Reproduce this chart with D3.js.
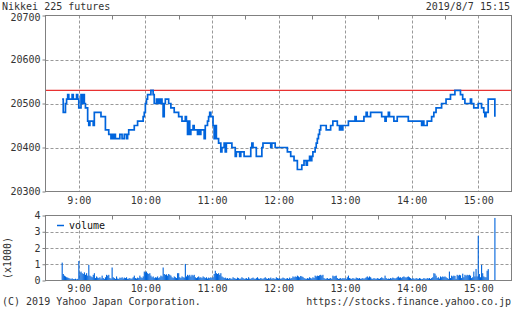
<!DOCTYPE html>
<html>
<head>
<meta charset="utf-8">
<script src="https://cdn.jsdelivr.net/npm/d3@7"></script>
<style>
body { margin: 0; background: #fff; }
text { font-family: "DejaVu Sans Mono", monospace; font-size: 10px; fill: #333; }
</style>
</head>
<body>
<div id="chart"></div>
<script>
// price steps (time, price)
const priceTimes = [
    "8:45", "8:46", "8:48", "8:49", "8:50", "8:51", "8:54", "8:55", "8:58", "8:59",
    "9:00", "9:02", "9:03", "9:04", "9:05", "9:06", "9:08", "9:09", "9:10", "9:13",
    "9:14", "9:20", "9:24", "9:27", "9:29", "9:30", "9:31", "9:32", "9:33", "9:37",
    "9:39", "9:41", "9:43", "9:44", "9:45", "9:50", "9:53", "9:58", "9:59", "10:00",
    "10:01", "10:02", "10:05", "10:07", "10:08", "10:10", "10:11", "10:12", "10:13", "10:14",
    "10:15", "10:16", "10:17", "10:18", "10:21", "10:23", "10:26", "10:30", "10:33", "10:36",
    "10:37", "10:38", "10:39", "10:40", "10:41", "10:43", "10:44", "10:47", "10:48", "10:49",
    "10:50", "10:53", "10:54", "10:56", "10:57", "10:58", "10:59", "11:01", "11:02", "11:03",
    "11:04", "11:06", "11:08", "11:09", "11:11", "11:12", "11:13", "11:18", "11:21", "11:22",
    "11:23", "11:25", "11:26", "11:29", "11:35", "11:36", "11:37", "11:40", "11:45", "11:46",
    "11:53", "11:54", "11:57", "12:08", "12:11", "12:14", "12:17", "12:21", "12:23", "12:25",
    "12:26", "12:28", "12:29", "12:30", "12:31", "12:33", "12:34", "12:35", "12:36", "12:37",
    "12:38", "12:43", "12:47", "12:49", "12:53", "12:55", "12:56", "12:57", "12:58", "13:03",
    "13:09", "13:10", "13:17", "13:19", "13:20", "13:23", "13:33", "13:36", "13:37", "13:39",
    "13:40", "13:44", "13:47", "13:57", "14:09", "14:10", "14:11", "14:14", "14:18", "14:20",
    "14:22", "14:27", "14:31", "14:35", "14:39", "14:44", "14:46", "14:48", "14:53", "14:54",
    "14:56", "15:00", "15:03", "15:05", "15:06", "15:07", "15:09", "15:15"
];
const priceValues = [
    20510, 20480, 20500, 20510, 20520, 20510, 20520, 20510, 20520, 20510,
    20490, 20520, 20500, 20520, 20500, 20490, 20460, 20450, 20460, 20450,
    20480, 20470, 20440, 20430, 20420, 20430, 20420, 20430, 20420, 20430,
    20420, 20430, 20420, 20430, 20440, 20450, 20460, 20470, 20480, 20500,
    20510, 20520, 20530, 20520, 20500, 20510, 20500, 20510, 20500, 20510,
    20500, 20470, 20500, 20510, 20500, 20490, 20480, 20470, 20460, 20470,
    20460, 20430, 20460, 20430, 20440, 20450, 20440, 20430, 20440, 20430,
    20440, 20420, 20450, 20460, 20470, 20480, 20470, 20450, 20420, 20450,
    20420, 20410, 20390, 20400, 20410, 20390, 20410, 20400, 20380, 20390,
    20390, 20380, 20390, 20380, 20400, 20410, 20400, 20380, 20400, 20410,
    20400, 20410, 20400, 20390, 20380, 20370, 20350, 20360, 20370, 20360,
    20370, 20380, 20370, 20380, 20390, 20400, 20410, 20420, 20430, 20440,
    20450, 20440, 20450, 20460, 20450, 20440, 20450, 20440, 20450, 20460,
    20470, 20460, 20470, 20480, 20470, 20480, 20470, 20460, 20470, 20480,
    20470, 20460, 20470, 20460, 20450, 20460, 20450, 20460, 20470, 20480,
    20490, 20500, 20510, 20520, 20530, 20520, 20510, 20500, 20510, 20500,
    20490, 20500, 20490, 20480, 20470, 20480, 20510, 20470
];
const refPrice = 20530;

// volume per minute from 8:45 (one row = 15 minutes)
const volumeStart = "8:45";
const volumes = [
    1100, 400, 300, 250, 200, 180, 150, 120, 100, 130, 90, 80, 110, 70, 100,
    1200, 500, 550, 450, 400, 500, 350, 450, 300, 960, 300, 250, 200, 350, 450,
    150, 250, 180, 150, 200, 120, 300, 150, 100, 200, 350, 300, 350, 150, 120,
    800, 200, 150, 100, 250, 120, 100, 180, 150, 200, 120, 180, 150, 200, 100,
    120, 150, 100, 130, 200, 300, 150, 120, 180, 150, 300, 200, 150, 250, 550,
    500, 550, 450, 400, 450, 300, 200, 250, 150, 200, 180, 250, 150, 200, 300,
    250, 800, 400, 350, 380, 300, 400, 350, 300, 200, 150, 250, 200, 150, 450,
    450, 200, 150, 250, 200, 180, 1020, 250, 350, 300, 350, 250, 350, 300, 350,
    200, 150, 200, 250, 180, 200, 150, 250, 200, 150, 200, 120, 180, 150, 200,
    150, 200, 400, 600, 450, 400, 450, 350, 450, 250, 200, 150, 180, 120, 150,
    100, 150, 120, 100, 200, 150, 120, 100, 180, 150, 100, 120, 200, 150, 100,
    120, 150, 100, 200, 120, 100, 150, 180, 120, 100, 150, 200, 120, 100, 150,
    120, 100, 150, 200, 130, 100, 150, 120, 180, 100, 150, 120, 100, 200, 150,
    120, 150, 100, 130, 180, 150, 100, 120, 150, 100, 180, 120, 150, 250, 200,
    250, 220, 300, 250, 200, 280, 250, 220, 150, 120, 100, 150, 120, 200, 150,
    120, 200, 150, 300, 250, 300, 280, 320, 350, 300, 350, 150, 100, 120, 150,
    100, 120, 150, 100, 300, 250, 280, 300, 150, 100, 120, 150, 100, 150, 120,
    150, 100, 200, 300, 150, 120, 100, 150, 120, 100, 180, 150, 120, 150, 100,
    120, 150, 100, 150, 200, 250, 180, 250, 200, 120, 100, 150, 120, 100, 150,
    120, 100, 150, 200, 150, 120, 300, 150, 100, 120, 100, 150, 120, 180, 150,
    120, 150, 200, 250, 180, 200, 150, 220, 250, 200, 180, 220, 250, 200, 150,
    100, 150, 120, 100, 150, 120, 100, 150, 120, 80, 100, 150, 120, 100, 150,
    120, 150, 100, 150, 200, 450, 420, 300, 150, 200, 120, 250, 200, 250, 220,
    250, 200, 150, 100, 550, 150, 300, 250, 300, 280, 100, 350, 300, 350, 320,
    150, 420, 200, 350, 300, 350, 320, 350, 300, 150, 200, 550, 250, 710, 250,
    2750, 400, 200, 960, 450, 250, 200, 200, 600, 700, 0, 0, 0, 0, 0,
    3850
];

const hourTicks = ["9:00", "10:00", "11:00", "12:00", "13:00", "14:00", "15:00"];
const halfTicks = ["9:30", "10:30", "11:30", "12:30", "13:30", "14:30"];
const priceTicks = [20300, 20400, 20500, 20600, 20700];
const volumeTicks = [0, 1000, 2000, 3000, 4000];

const width = 512;
const height = 310;
const frameColor = "#808080";
const gridColor = "#999";
const blue = "#0064dc";

const toMin = (s) => {
    const p = s.split(":");
    return +p[0] * 60 + +p[1];
};

const svg = d3
    .select("#chart")
    .append("svg")
    .attr("width", width)
    .attr("height", height);

let x = d3.scaleLinear().domain([toMin("8:30"), toMin("15:30")]).range([45.5, 511.5]);
let y = d3.scaleLinear().domain([20300, 20700]).range([191.5, 15.5]);
let yVol = d3.scaleLinear().domain([0, 4000]).range([280.5, 215.5]);

// grid lines
const grid = svg.append("g").attr("id", "grid");
[[y, 15.5, 191.5], [yVol, 215.5, 280.5]].forEach(([sc, top, bottom]) => {
    grid.selectAll(null)
        .data(hourTicks)
        .enter()
        .append("line")
        .attr("x1", (d) => Math.round(x(toMin(d))) + 0.5)
        .attr("x2", (d) => Math.round(x(toMin(d))) + 0.5)
        .attr("y1", top)
        .attr("y2", bottom)
        .attr("stroke", gridColor)
        .attr("stroke-dasharray", "3,2");
    grid.selectAll(null)
        .data(halfTicks)
        .enter()
        .append("line")
        .attr("x1", (d) => Math.round(x(toMin(d))) + 0.5)
        .attr("x2", (d) => Math.round(x(toMin(d))) + 0.5)
        .attr("y1", top)
        .attr("y2", top + 4)
        .attr("stroke", frameColor);
});
grid.selectAll(null)
    .data([20400, 20500, 20600])
    .enter()
    .append("line")
    .attr("x1", 45.5)
    .attr("x2", 511.5)
    .attr("y1", (d) => Math.round(y(d)) + 0.5)
    .attr("y2", (d) => Math.round(y(d)) + 0.5)
    .attr("stroke", gridColor)
    .attr("stroke-dasharray", "3,2");
grid.selectAll(null)
    .data([1000, 2000, 3000])
    .enter()
    .append("line")
    .attr("x1", 45.5)
    .attr("x2", 511.5)
    .attr("y1", (d) => Math.round(yVol(d)) + 0.5)
    .attr("y2", (d) => Math.round(yVol(d)) + 0.5)
    .attr("stroke", gridColor)
    .attr("stroke-dasharray", "3,2");

// reference line
svg.append("line")
    .attr("x1", 45.5)
    .attr("x2", 511.5)
    .attr("y1", y(refPrice))
    .attr("y2", y(refPrice))
    .attr("stroke", "#e83232")
    .attr("stroke-width", 1.2);

// price line
const priceData = priceTimes.map((t, i) => ({ t: toMin(t), v: priceValues[i] }));
const valueLine = d3
    .line()
    .curve(d3.curveStepAfter)
    .x((d) => x(d.t))
    .y((d) => y(d.v));
svg.append("path")
    .attr("d", valueLine(priceData))
    .attr("fill", "none")
    .attr("stroke", blue)
    .attr("stroke-width", 1.7);

// volume bars
const t0 = toMin(volumeStart);
svg.append("g")
    .selectAll("rect")
    .data(volumes)
    .enter()
    .append("rect")
    .attr("x", (d, i) => x(t0 + i) - 0.5)
    .attr("y", (d) => yVol(d))
    .attr("width", 1.1)
    .attr("height", (d) => yVol(0) - yVol(d))
    .attr("fill", blue);

// frames
svg.append("rect")
    .attr("x", 45.5).attr("y", 15.5).attr("width", 466).attr("height", 176)
    .attr("fill", "none").attr("stroke", frameColor);
svg.append("rect")
    .attr("x", 45.5).attr("y", 215.5).attr("width", 466).attr("height", 65)
    .attr("fill", "none").attr("stroke", frameColor);

// axes
const yAxis = svg.append("g")
    .attr("transform", "translate(45.5,0)")
    .call(d3.axisLeft(y).tickValues(priceTicks).tickSize(3).tickPadding(2).tickFormat(d3.format("d")));
const yVolAxis = svg.append("g")
    .attr("transform", "translate(45.5,0)")
    .call(d3.axisLeft(yVol).tickValues(volumeTicks).tickSize(3).tickPadding(2).tickFormat((d) => d / 1000));
const xAxis = svg.append("g")
    .attr("transform", "translate(0,191.5)")
    .call(d3.axisBottom(x).tickValues(hourTicks.map(toMin)).tickSize(0).tickPadding(5)
        .tickFormat((d) => hourTicks[hourTicks.map(toMin).indexOf(d)]));
const xVolAxis = svg.append("g")
    .attr("transform", "translate(0,280.5)")
    .call(d3.axisBottom(x).tickValues(hourTicks.map(toMin)).tickSize(0).tickPadding(4)
        .tickFormat((d) => hourTicks[hourTicks.map(toMin).indexOf(d)]));
[yAxis, yVolAxis, xAxis, xVolAxis].forEach((g) => {
    g.select(".domain").remove();
    g.selectAll("line").attr("stroke", frameColor);
    g.selectAll("text").attr("font-family", null).attr("font-size", null).attr("fill", "#333");
});
// keep the top label clear of the title
yAxis.selectAll(".tick text").filter((d) => d === 20700).attr("dy", "0.45em");

// legend
svg.append("line")
    .attr("x1", 57).attr("x2", 64).attr("y1", 225.5).attr("y2", 225.5)
    .attr("stroke", blue).attr("stroke-width", 1.5);
svg.append("text").attr("x", 69).attr("y", 229).text("volume").style("fill", "#111");

svg.append("text")
    .attr("transform", "translate(10.5,258) rotate(-90)")
    .attr("text-anchor", "middle")
    .text("(x1000)");

// header / footer
svg.append("text").attr("x", 2).attr("y", 10).text("Nikkei 225 futures");
svg.append("text").attr("x", 510).attr("y", 10).attr("text-anchor", "end").text("2019/8/7 15:15");
svg.append("text").attr("x", 2).attr("y", 305).text("(C) 2019 Yahoo Japan Corporation.");
svg.append("text").attr("x", 511).attr("y", 305).attr("text-anchor", "end").text("https://stocks.finance.yahoo.co.jp");
</script>
</body>
</html>
